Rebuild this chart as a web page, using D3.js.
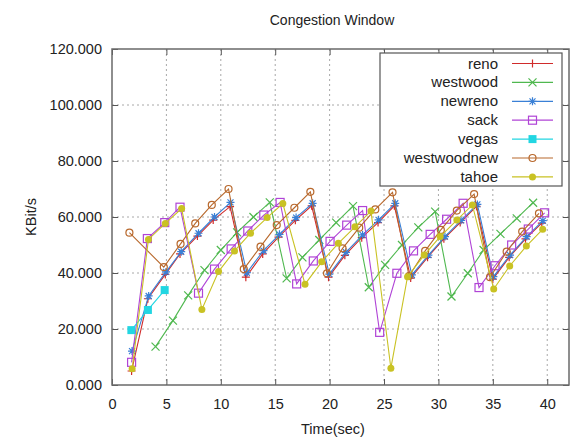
<!DOCTYPE html>
<html>
<head>
<meta charset="utf-8">
<script src="https://cdn.jsdelivr.net/npm/d3@7"></script>
<style>
  html, body { margin: 0; padding: 0; background: #fff; }
  svg { display: block; font-family: "Liberation Sans", Arial, sans-serif; }
</style>
</head>
<body>
<svg id="chart" width="571" height="439"></svg>
<script>
// Congestion window samples per TCP variant: [time (s), KBit/s]
const reno = [[1.8,5],[3.3,30.8],[4.9,39.5],[6.25,46.8],[7.85,53.2],[9.3,58.9],[10.85,63.7],[12.3,38.5],[13.85,46.8],[15.3,52.8],[16.85,58.8],[18.35,64],[19.9,38.5],[21.4,46.3],[22.95,52.6],[24.45,58],[25.95,64],[27.45,38.2],[29,45.6],[30.5,52.2],[32,58],[33.5,63.8],[35,37.8],[36.5,45.6],[38,52.2],[39.5,57.8]];
const westwood = [[4.0,13.7],[5.6,23],[7.0,32],[8.5,41],[10.0,48.2],[11.5,54.5],[13.0,60],[14.5,65.2],[16.05,38.1],[17.5,45.6],[19.05,51.8],[20.6,58],[22.15,63.9],[23.6,34.9],[25.1,42.9],[26.65,50],[28.15,56.3],[29.7,61.9],[31.2,31.6],[32.7,39.9],[34.15,48.2],[35.7,54],[37.2,59.5],[38.7,65.1]];
const newreno = [[1.84,12.1],[3.37,31.8],[4.96,40.4],[6.36,47.6],[7.95,54.2],[9.42,60],[10.89,65.2],[12.39,40.1],[13.92,48],[15.39,53.8],[16.92,59.8],[18.44,64.9],[19.97,39.6],[21.5,47.4],[23.03,53.6],[24.5,59],[26.03,64.9],[27.56,39.3],[29.08,46.4],[30.6,53],[32.08,58.8],[33.58,64.5],[35.05,38.7],[36.58,46.4],[38.11,53],[39.6,58.7]];
const sack = [[1.8,8.1],[3.25,52.3],[4.85,58],[6.25,63.5],[7.95,32.8],[9.42,41.4],[10.95,48.6],[12.48,55],[13.95,60.7],[15.45,65.2],[16.97,36.1],[18.5,44.3],[20.04,51.3],[21.57,57.1],[23.03,62.3],[24.6,18.8],[26.18,39.9],[27.71,47.9],[29.24,53.8],[30.75,59.2],[32.27,64.9],[33.73,34.8],[35.2,42.6],[36.73,50],[38.26,55.7],[39.76,61.5]];
const vegas = [[1.78,19.6],[3.3,26.8],[4.84,33.9]];
const westwoodnew = [[1.6,54.4],[4.76,42.1],[6.3,50.4],[7.65,57.7],[9.17,64.3],[10.71,70],[12.11,41.4],[13.65,49.4],[15.14,57.1],[16.76,63.3],[18.23,69],[19.76,39.9],[21.19,48.8],[22.72,56.2],[24.2,62.7],[25.78,68.8],[27.3,38.9],[28.78,47.9],[30.22,55.4],[31.69,62.3],[33.28,68.2],[34.74,38.5],[36.27,47.6],[37.7,54.8],[39.24,61.3]];
const tahoe = [[1.85,5.8],[3.35,52],[4.9,57.7],[6.4,63],[8.26,27],[9.79,40.5],[11.26,47.9],[12.73,54.2],[14.26,59.8],[15.7,64.8],[17.74,36],[19.27,44],[20.8,50.6],[22.33,56.5],[23.8,62.1],[25.63,6],[27.16,38.7],[28.69,46.4],[30.16,53],[31.69,58.9],[33.12,64.3],[35.08,34.3],[36.55,42.5],[38.08,49.6],[39.58,55.6]];

const seriesNames = ["reno","westwood","newreno","sack","vegas","westwoodnew","tahoe"];
const seriesData = [reno, westwood, newreno, sack, vegas, westwoodnew, tahoe];
const seriesColors = ["#d02b2b","#4fb84f","#3a80d6","#b044d6","#22d6e2","#b8682c","#c9c223"];
const seriesMarks = ["plus","cross","star","box","fbox","circle","fcircle"];

const xTicks = [0,5,10,15,20,25,30,35,40];
const yTicks = [0,20,40,60,80,100,120];

const svg = d3.select("#chart");
const plotLeft = 112, plotRight = 569, plotTop = 49, plotBottom = 385;

const x = d3.scaleLinear().domain([0, 42]).range([plotLeft, plotRight]);
const y = d3.scaleLinear().domain([0, 120]).range([plotBottom, plotTop]);

// grid
const grid = svg.append("g");
grid.selectAll("line.gx").data(xTicks.filter(d => d > 0)).join("line")
  .attr("x1", d => x(d)).attr("x2", d => x(d)).attr("y1", plotTop).attr("y2", plotBottom)
  .attr("stroke", "#a8a8a8").attr("stroke-dasharray", "2,3").attr("stroke-width", 1);
grid.selectAll("line.gy").data(yTicks.filter(d => d > 0 && d < 120)).join("line")
  .attr("x1", plotLeft).attr("x2", plotRight).attr("y1", d => y(d)).attr("y2", d => y(d))
  .attr("stroke", "#a8a8a8").attr("stroke-dasharray", "2,3").attr("stroke-width", 1);

// axes with inward ticks, mirrored on top/right
const fmt = d3.format(".3f");
const axB = svg.append("g").attr("transform", `translate(0,${plotBottom})`)
  .call(d3.axisBottom(x).tickValues(xTicks).tickSize(-6).tickPadding(14).tickFormat(d3.format("d")));
const axT = svg.append("g").attr("transform", `translate(0,${plotTop})`)
  .call(d3.axisTop(x).tickValues(xTicks).tickSize(-6).tickFormat(""));
const axL = svg.append("g").attr("transform", `translate(${plotLeft},0)`)
  .call(d3.axisLeft(y).tickValues(yTicks).tickSize(-6).tickPadding(10).tickFormat(fmt));
const axR = svg.append("g").attr("transform", `translate(${plotRight},0)`)
  .call(d3.axisRight(y).tickValues(yTicks).tickSize(-6).tickFormat(""));
[axB, axT, axL, axR].forEach(a => {
  a.select(".domain").remove();
  a.selectAll(".tick line").attr("stroke", "#555");
  a.selectAll(".tick text").attr("fill", "#222").style("font-size", "14.5px");
});

svg.append("rect").attr("x", plotLeft).attr("y", plotTop).attr("width", plotRight - plotLeft).attr("height", plotBottom - plotTop)
  .attr("fill", "none").attr("stroke", "#6a6a6a").attr("stroke-width", 1.5);

// titles
svg.append("text").attr("x", 332).attr("y", 25).attr("text-anchor", "middle")
  .style("font-size", "14px").attr("fill", "#222").text("Congestion Window");
svg.append("text").attr("x", 333).attr("y", 434).attr("text-anchor", "middle")
  .style("font-size", "14.5px").attr("fill", "#222").text("Time(sec)");
svg.append("text").attr("transform", "translate(36,217) rotate(-90)").attr("text-anchor", "middle")
  .style("font-size", "14.5px").attr("fill", "#222").text("KBit/s");

// marker drawing
function drawMark(g, kind, color, cx, cy) {
  const s = 4;
  if (kind === "plus") {
    g.append("path").attr("d", `M${cx - s},${cy}H${cx + s}M${cx},${cy - s}V${cy + s}`).attr("stroke", color).attr("stroke-width", 1.2).attr("fill", "none");
  } else if (kind === "cross") {
    g.append("path").attr("d", `M${cx - s},${cy - s}L${cx + s},${cy + s}M${cx - s},${cy + s}L${cx + s},${cy - s}`).attr("stroke", color).attr("stroke-width", 1.2).attr("fill", "none");
  } else if (kind === "star") {
    g.append("path").attr("d", `M${cx - s},${cy}H${cx + s}M${cx},${cy - s}V${cy + s}M${cx - s * 0.75},${cy - s * 0.75}L${cx + s * 0.75},${cy + s * 0.75}M${cx - s * 0.75},${cy + s * 0.75}L${cx + s * 0.75},${cy - s * 0.75}`).attr("stroke", color).attr("stroke-width", 1.2).attr("fill", "none");
  } else if (kind === "box") {
    g.append("rect").attr("x", cx - s).attr("y", cy - s).attr("width", 2 * s).attr("height", 2 * s).attr("fill", "none").attr("stroke", color).attr("stroke-width", 1.2);
  } else if (kind === "fbox") {
    g.append("rect").attr("x", cx - s).attr("y", cy - s).attr("width", 2 * s).attr("height", 2 * s).attr("fill", color);
  } else if (kind === "circle") {
    g.append("circle").attr("cx", cx).attr("cy", cy).attr("r", 3.5).attr("fill", "none").attr("stroke", color).attr("stroke-width", 1.2);
  } else if (kind === "fcircle") {
    g.append("circle").attr("cx", cx).attr("cy", cy).attr("r", 3.5).attr("fill", color);
  }
}

const line = d3.line().x(d => x(d[0])).y(d => y(d[1]));
const plot = svg.append("g");
seriesData.forEach((data, i) => {
  const g = plot.append("g");
  g.append("path").datum(data).attr("d", line).attr("fill", "none")
    .attr("stroke", seriesColors[i]).attr("stroke-width", 1.1);
  data.forEach(d => drawMark(g, seriesMarks[i], seriesColors[i], x(d[0]), y(d[1])));
});

// legend
const lg = svg.append("g");
lg.append("rect").attr("x", 380).attr("y", 53).attr("width", 182).attr("height", 133)
  .attr("fill", "#fff").attr("stroke", "#555").attr("stroke-width", 1.2);
seriesNames.forEach((name, i) => {
  const yy = 63.5 + i * 18.9;
  lg.append("text").attr("x", 498).attr("y", yy + 5).attr("text-anchor", "end")
    .style("font-size", "15px").attr("fill", "#222").text(name);
  lg.append("line").attr("x1", 512).attr("x2", 553).attr("y1", yy).attr("y2", yy)
    .attr("stroke", seriesColors[i]).attr("stroke-width", 1.2);
  drawMark(lg, seriesMarks[i], seriesColors[i], 532.5, yy);
});
</script>
</body>
</html>
